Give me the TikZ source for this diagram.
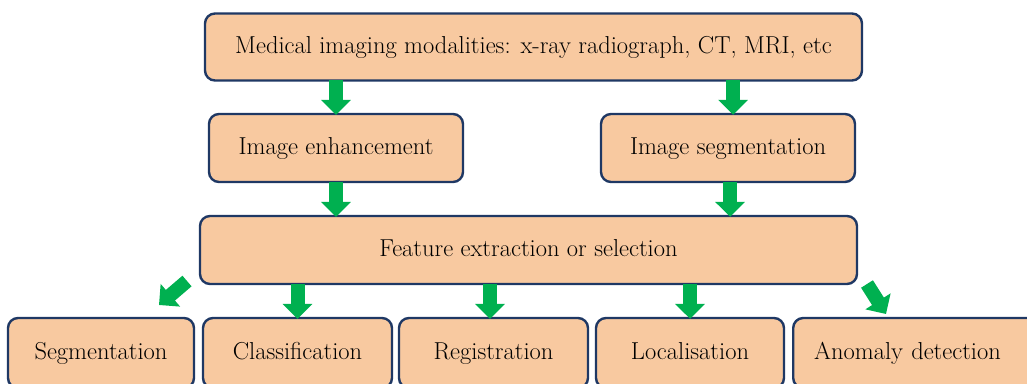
\documentclass[tikz,border=0pt]{standalone}
\usetikzlibrary{arrows.meta,calc}
\definecolor{peach}{HTML}{F8C9A0}
\definecolor{navy}{HTML}{1F3864}
\definecolor{flowgreen}{HTML}{00B050}
\begin{document}
\begin{tikzpicture}[x=1pt,y=-1pt,
  box/.style={draw=navy, line width=2.4pt, fill=peach, rounded corners=10pt,
    inner sep=0pt, text height=17pt, text depth=5pt,
    font=\fontsize{24.5}{28}\selectfont, text=black},
  flow/.style={draw=flowgreen, line width=14pt,
    -{Triangle[width=29pt,length=15pt]}}]
\useasboundingbox (0,0) rectangle (1027,383);
\clip (0,0) rectangle (1027,383);
% boxes
\node[box, minimum width=657, minimum height=67] (src) at (533.5,47)
  {Medical imaging modalities: x-ray radiograph, CT, MRI, etc};
\node[box, minimum width=254, minimum height=68] (enh) at (336,148) {Image enhancement};
\node[box, minimum width=254, minimum height=68] (seg) at (728,148) {Image segmentation};
\node[box, minimum width=657, minimum height=68] (feat) at (528.5,250) {Feature extraction or selection};
\node[box, minimum width=186, minimum height=70] (o1) at (101,353) {Segmentation};
\node[box, minimum width=189, minimum height=70] (o2) at (297.5,353) {Classification};
\node[box, minimum width=189, minimum height=70] (o3) at (493.5,353) {Registration};
\node[box, minimum width=188, minimum height=70] (o4) at (690,353) {Localisation};
\node[box, minimum height=70, text width=228, align=left, inner xsep=21pt, anchor=west] (o5) at (792,353) {Anomaly detection};
% arrows
\draw[flow] ([yshift=1.5]src.south -| enh) -- ([yshift=-2]enh.north);
\draw[flow] ([yshift=1.5]src.south -| 733,0) -- ([yshift=-2]seg.north -| 733,0);
\draw[flow] ([yshift=1.5]enh.south) -- ([yshift=-2]feat.north -| enh);
\draw[flow] ([yshift=1.5]seg.south -| 730,0) -- ([yshift=-2]feat.north -| 730,0);
\coordinate (d1s) at (187,281);
\coordinate (d1e) at (159,305);
\coordinate (d5s) at (867,284);
\coordinate (d5e) at (886,314);
\draw[flow] (d1s) -- (d1e);
\draw[flow] ([yshift=1.5]feat.south -| o2) -- ([yshift=-2]o2.north);
\draw[flow] ([yshift=1.5]feat.south -| 490,0) -- ([yshift=-2]o3.north -| 490,0);
\draw[flow] ([yshift=1.5]feat.south -| o4) -- ([yshift=-2]o4.north);
\draw[flow] (d5s) -- (d5e);
\end{tikzpicture}
\end{document}
